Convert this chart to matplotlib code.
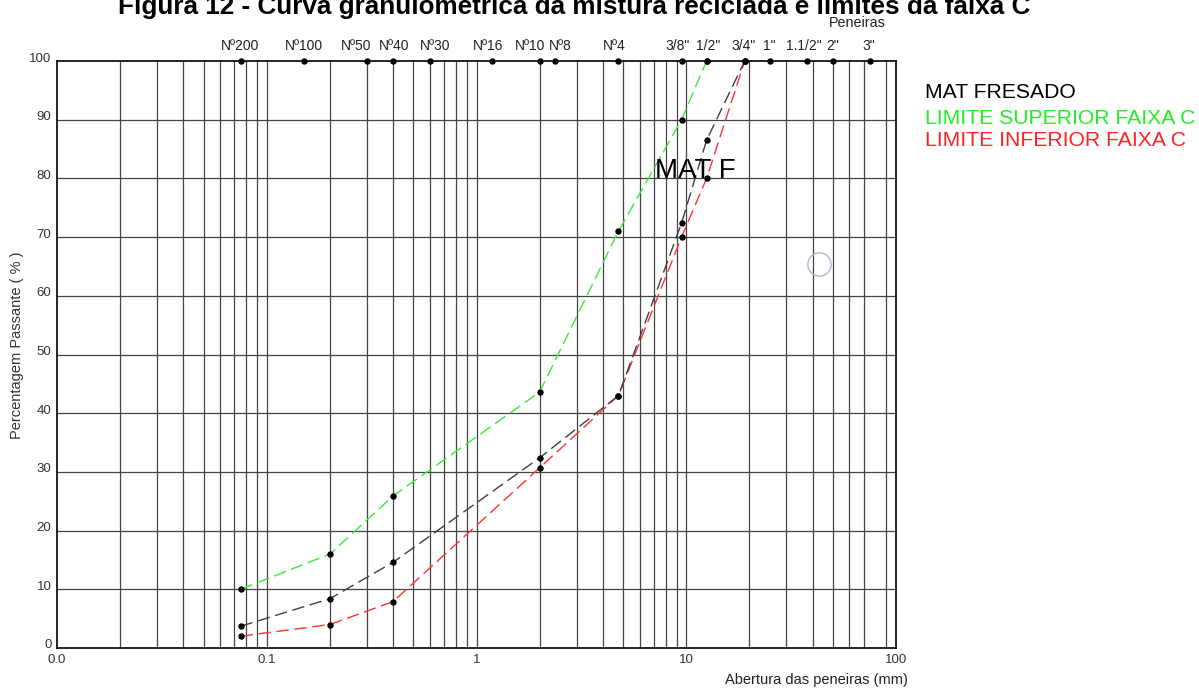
import matplotlib
matplotlib.use('Agg')
import matplotlib.pyplot as plt
import matplotlib.transforms as mtransforms

# Aberturas das peneiras usadas nas curvas (mm)
abertura = [0.075, 0.2, 0.4, 2.0, 4.75, 9.5, 12.5, 19.0]
mat_fresado = [3.7, 8.4, 14.6, 32.4, 43.0, 72.4, 86.5, 100.0]
lim_inferior = [2.0, 4.0, 7.9, 30.7, 43.0, 70.0, 80.0, 100.0]
abertura_sup = [0.075, 0.2, 0.4, 2.0, 4.75, 9.5, 12.5]
lim_superior = [10.0, 16.0, 25.9, 43.6, 71.0, 90.0, 100.0]

# Série de peneiras marcada no topo
peneiras = ['Nº200', 'Nº100', 'Nº50', 'Nº40', 'Nº30', 'Nº16', 'Nº10', 'Nº8', 'Nº4',
            '3/8"', '1/2"', '3/4"', '1"', '1.1/2"', '2"', '3"']
peneiras_mm = [0.075, 0.15, 0.3, 0.4, 0.6, 1.18, 2.0, 2.36, 4.75,
               9.5, 12.5, 19.0, 25.0, 37.5, 50.0, 75.0]
# deslocamento horizontal dos rótulos (px) para não encavalarem
rotulo_dx = [0, 0, -11, 1, 5, -4, -10, 6, -4, -4, 1.5, -1.5, 0, -3, 0, -1.5]

x_ticks = [0.01, 0.1, 1, 10, 100]
x_labels = ['0.0', '0.1', '1', '10', '100']
y_ticks = list(range(0, 101, 10))

plt.rcParams['font.family'] = ['Liberation Sans', 'DejaVu Sans']

fig = plt.figure(figsize=(11.99, 6.89), dpi=100)
ax = fig.add_axes([57 / 1199, 1 - 648 / 689, 839 / 1199, 587 / 689])
ax.set_xscale('log')
ax.set_xlim(0.01, 100)
ax.set_ylim(0, 100)

# grade logarítmica (sem a linha de 80 mm)
grid_color = '#444444'
for dec in [0.01, 0.1, 1, 10]:
    for m in range(1, 10):
        v = dec * m
        if v in (0.01,) or abs(v - 80) < 1e-9:
            continue
        ax.axvline(v, color=grid_color, lw=0.9, zorder=1)
for yv in range(10, 100, 10):
    ax.axhline(yv, color=grid_color, lw=0.9, zorder=1)

dash = (9, 4)
ax.plot(abertura_sup, lim_superior, color='#33f033', lw=1.0, dashes=dash, zorder=3)
ax.plot(abertura, lim_inferior, color='#ff3333', lw=1.0, dashes=dash, zorder=3)
ax.plot(abertura, mat_fresado, color='#404040', lw=1.0, dashes=dash, zorder=4)
for xs, ys in [(abertura_sup, lim_superior), (abertura, lim_inferior), (abertura, mat_fresado)]:
    ax.plot(xs, ys, 'o', color='black', ms=3.6, zorder=5, clip_on=False)

# peneiras no topo
ax.plot(peneiras_mm, [100] * len(peneiras_mm), 'o', color='black', ms=3.6, zorder=6, clip_on=False)
for nome, mm, dx in zip(peneiras, peneiras_mm, rotulo_dx):
    ax.annotate(nome, (mm, 100), xytext=(dx * 0.72, 8), textcoords='offset points',
                ha='center', va='baseline', fontsize=10, color='#222222')

ax.set_xticks(x_ticks)
ax.set_xticklabels(x_labels)
ax.xaxis.set_minor_locator(matplotlib.ticker.NullLocator())
ax.set_yticks(y_ticks)
ax.tick_params(length=0, labelsize=9.5, labelcolor='#333333', pad=4)
offset = mtransforms.ScaledTranslation(0, 4 / 100, fig.dpi_scale_trans)
for lbl in ax.get_yticklabels():
    lbl.set_transform(lbl.get_transform() + offset)

for s in ax.spines.values():
    s.set_color('black')
    s.set_linewidth(1.2)

ax.text(7.1, 80.0, 'MAT F', fontsize=20, color='black', ha='left', va='baseline', zorder=7)
ax.plot([42.9], [65.4], 'o', ms=16.8, mfc='none', mec='#b4b4d2', mew=1.0, zorder=7)

fig.text(574.5 / 1199, 1 - 14 / 689, 'Figura 12 - Curva granulométrica da mistura reciclada e limites da faixa C',
         ha='center', va='baseline', fontsize=18.8, fontweight='bold')
fig.text(857 / 1199, 1 - 27 / 689, 'Peneiras', ha='center', va='baseline', fontsize=10.4, color='#222222')
fig.text(908 / 1199, 1 - 680 / 689, 'Abertura das peneiras (mm)', ha='right', va='center', fontsize=10.5, color='#222222')
fig.text(17 / 1199, 1 - 345 / 689, 'Percentagem Passante ( % )', ha='center', va='center',
         rotation=90, fontsize=10.5, color='#333333')

fig.text(925 / 1199, 1 - 98 / 689, 'MAT FRESADO', color='black', fontsize=15.2, va='baseline')
fig.text(925 / 1199, 1 - 124 / 689, 'LIMITE SUPERIOR FAIXA C', color='#22ee22', fontsize=15.2, va='baseline')
fig.text(925 / 1199, 1 - 146 / 689, 'LIMITE INFERIOR FAIXA C', color='#ff2222', fontsize=15.2, va='baseline')

fig.savefig('out.png', dpi=100)
